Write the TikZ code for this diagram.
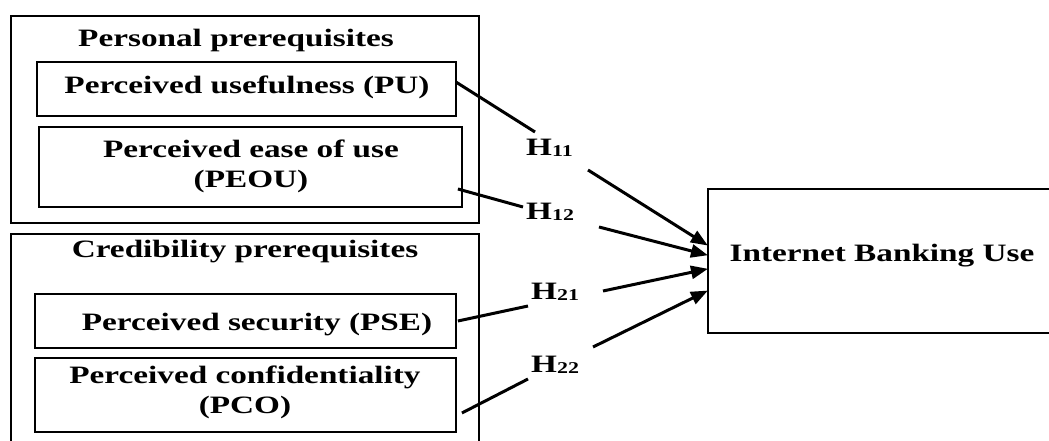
\documentclass[tikz,border=0pt]{standalone}
\usepackage{fontspec}
\setmainfont{Liberation Serif}[FakeStretch=1.33]
\usetikzlibrary{arrows.meta,calc}
\newcommand{\sub}[1]{{\fontsize{16.5}{16.5}\selectfont\raisebox{-1pt}{#1}}}
\begin{document}
\begin{tikzpicture}[x=1pt,y=-1pt,
  every node/.style={font=\fontsize{25}{30}\selectfont\bfseries, inner sep=0pt, align=center},
  box/.style={draw, line width=1.8pt, rectangle},
  conn/.style={line width=3pt},
  arr/.style={line width=3pt, -{Triangle[length=17pt,width=13pt]}, shorten >=-1pt}]
\useasboundingbox (0,0) rectangle (1049,441);
\clip (0,0) rectangle (1049,441);
% group boxes
\node[box, minimum width=468pt, minimum height=207pt] (g1) at (245,119.5) {};
\node[box, minimum width=468pt, minimum height=240pt] (g2) at (245,354) {};
\node[anchor=base] (t1) at (236,47) {Personal prerequisites};
\node[anchor=base] (t2) at (245,257) {Credibility prerequisites};
% construct boxes
\node[box, minimum width=419pt, minimum height=54pt] (pu) at (246.5,89) {};
\node[anchor=base] (put) at (247,94) {Perceived usefulness (PU)};
\node[box, minimum width=423pt, minimum height=80pt] (peou) at (250.5,167) {};
\node[anchor=base] (peout) at (251,187) {Perceived ease of use\\(PEOU)};
\node[box, minimum width=421pt, minimum height=54pt] (pse) at (245.5,321) {};
\node[anchor=base] (pset) at (257,330) {Perceived security (PSE)};
\node[box, minimum width=421pt, minimum height=74pt] (pco) at (245.5,395) {};
\node[anchor=base] (pcot) at (245,413) {Perceived confidentiality\\(PCO)};
% target
\node[box, minimum width=360pt, minimum height=144pt, anchor=west] (ibu) at (707,261) {};
\node[anchor=base] (ibut) at (882,261) {Internet Banking Use};
% hypothesis labels
\node[anchor=base west] (h11) at (526,156) {H\sub{11}};
\node[anchor=base west] (h12) at (526,219) {H\sub{12}};
\node[anchor=base west] (h21) at (531,299) {H\sub{21}};
\node[anchor=base west] (h22) at (531,372) {H\sub{22}};
% connector points
\coordinate (s11) at ($(pu.east)+(-1,-7)$);
\coordinate (e11) at (535,132);
\coordinate (r11) at (588,170);
\coordinate (s12) at ($(peou.east)+(-5,22)$);
\coordinate (e12) at (523,207);
\coordinate (r12) at (599,227);
\coordinate (s21) at ($(pse.east)+(1,0)$);
\coordinate (e21) at (528,306);
\coordinate (r21) at (603,291);
\coordinate (s22) at ($(pco.east)+(5,18)$);
\coordinate (e22) at (528,379);
\coordinate (r22) at (593,347);
% connectors
\draw[conn] (s11) -- (e11);
\draw[arr] (r11) -- (ibu.west |- 0,245);
\draw[conn] (s12) -- (e12);
\draw[arr] (r12) -- (ibu.west |- 0,255);
\draw[conn] (s21) -- (e21);
\draw[arr] (r21) -- (ibu.west |- 0,269);
\draw[conn] (s22) -- (e22);
\draw[arr] (r22) -- (ibu.west |- 0,291);
\end{tikzpicture}
\end{document}
